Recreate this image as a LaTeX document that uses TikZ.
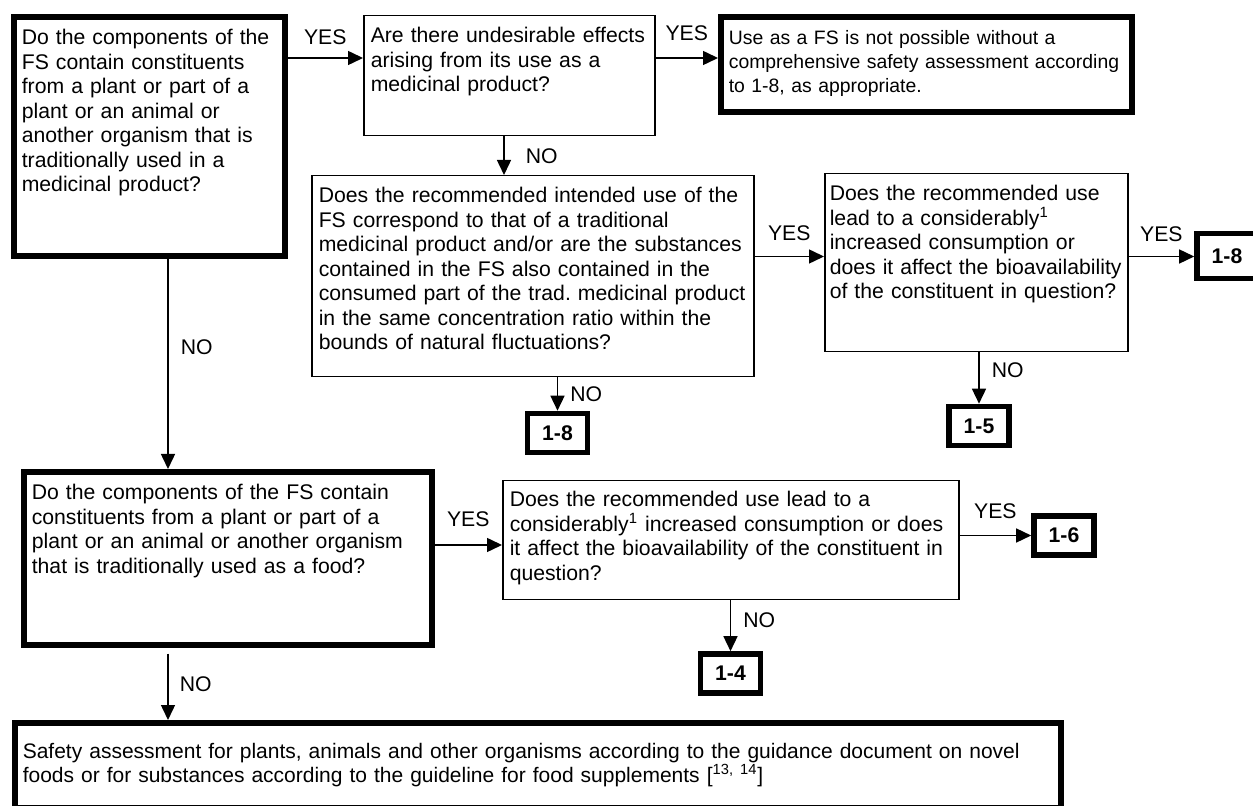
\documentclass[tikz,border=0pt]{standalone}
\usepackage{fontspec}
\setmainfont{Liberation Sans}
\usetikzlibrary{arrows.meta}
\frenchspacing
\hyphenpenalty=10000
\exhyphenpenalty=10000

\begin{document}
\begin{tikzpicture}[x=0.5pt,y=-0.5pt,
  font=\fontsize{10.6}{12.25}\selectfont,
  ask/.style={draw, line width=0.75pt, anchor=north west, align=left, inner xsep=3.5pt, inner ysep=0pt, text height=13.5pt},
  askbold/.style={ask, line width=2.8pt, inner xsep=4pt, text height=14pt},
  res/.style={draw, line width=2.8pt, minimum width=30pt, minimum height=19.5pt, inner sep=0pt, font=\fontsize{10.6}{12.25}\selectfont\bfseries},
  arr/.style={-{Triangle[length=7.5pt,width=7pt]}, line width=0.75pt},
  lbl/.style={inner sep=0pt}]
\useasboundingbox (0,0) rectangle (1253,806);

\node[askbold, text width=127.5pt, text depth=105.5pt] (q1) at (11,14) {Do the components of the\\FS contain constituents\\from a plant or part of a\\plant or an animal or\\another organism that is\\traditionally used in a\\medicinal product?};
\node[ask, text width=138.5pt, text depth=46.5pt] (q2) at (363,15) {Are there undesirable effects\\arising from its use as a\\medicinal product?};
\node[askbold, font=\fontsize{9.7}{12}\selectfont, text width=197.5pt, text depth=33.5pt] (stop) at (718,14) {Use as a FS is not possible without a\\comprehensive safety assessment according\\to 1-8, as appropriate.};
\node[ask, text width=214pt, text depth=87pt] (q3) at (311,175) {Does the recommended intended use of the\\FS correspond to that of a traditional\\medicinal product and/or are the substances\\contained in the FS also contained in the\\consumed part of the trad. medicinal product\\in the same concentration ratio within the\\bounds of natural fluctuations?};
\node[ask, inner xsep=2.5pt, text width=146.5pt, text depth=75.5pt] (q4) at (824,173) {Does the recommended use\\lead to a considerably\textsuperscript{1}\\increased consumption or\\does it affect the bioavailability\\of the constituent in question?};
\node[askbold, text width=196pt, text depth=72.5pt] (q5) at (21,469) {Do the components of the FS contain\\constituents from a plant or part of a\\plant or an animal or another organism\\that is traditionally used as a food?};
\node[ask, text height=13pt, text width=221pt, text depth=46.5pt] (q6) at (502,480) {Does the recommended use lead to a\\considerably\textsuperscript{1} increased consumption or does\\it affect the bioavailability of the constituent in\\question?};
\node[askbold, font=\fontsize{10.5}{12.25}\selectfont, text height=17.75pt, text width=515pt, text depth=24.5pt] (safe) at (12,720) {Safety assessment for plants, animals and other organisms according to the guidance document on novel\\foods or for substances according to the guideline for food supplements [\textsuperscript{13, 14}]};

\node[res] (r18) at (557.5,433) {1-8};
\node[res, minimum height=22.5pt] (r18b) at (1227,256) {1-8};
\node[res] (r15) at (979,426) {1-5};
\node[res] (r14) at (730.5,673.5) {1-4};
\node[res] (r16) at (1064,535.5) {1-6};

\coordinate (row1) at (0,58);
\coordinate (row2) at (0,256.5);
\coordinate (row3) at (0,545);
\coordinate (lane1) at (168,0);
\coordinate (lane2) at (504,0);

\path[arr] (q1.east |- row1) edge node[lbl, above=6.5pt] {YES} (q2.west |- row1);
\path[arr] (q2.east |- row1) edge node[lbl, above=8.5pt] {YES} (stop.west |- row1);
\path[arr] (q2.south -| lane2) edge node[lbl, right=10.5pt] {NO} (q3.north -| lane2);
\path[arr] (q3.east |- row2) edge node[lbl, above=7.3pt] {YES} (q4.west |- row2);
\path[arr] (q4.east |- row2) edge node[lbl, above=7pt] {YES} (r18b.west |- row2);
\path[arr] (r18.north |- q3.south) edge node[lbl, right=6pt] {NO} (r18.north);
\path[arr] (r15.north |- q4.south) edge node[lbl, right=6pt, pos=.35] {NO} (r15.north);
\path[arr] (q1.south -| lane1) edge node[lbl, right=6pt, pos=.42] {NO} (q5.north -| lane1);
\path[arr] (q5.east |- row3) edge node[lbl, above=9pt] {YES} (q6.west |- row3);
\path[arr] (q6.east |- r16.west) edge node[lbl, above=8pt] {YES} (r16.west);
\path[arr] (r14.north |- q6.south) edge node[lbl, right=6pt, pos=.38] {NO} (r14.north);
\path[arr] (q5.south -| lane1) edge[shorten <=3pt] node[lbl, right=5.5pt] {NO} (safe.north -| lane1);
\end{tikzpicture}
\end{document}
